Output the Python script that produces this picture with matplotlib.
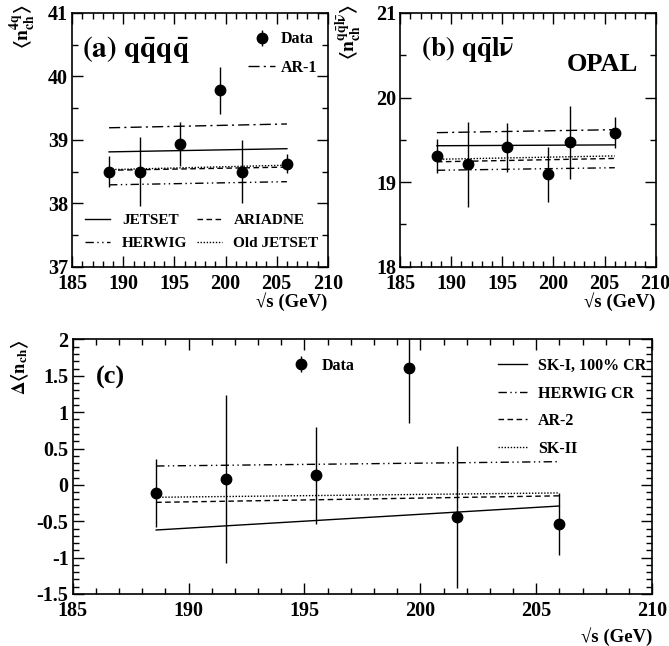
import numpy as np
import matplotlib
matplotlib.use('Agg')
import matplotlib.pyplot as plt
from matplotlib.ticker import MultipleLocator, FormatStrFormatter
from matplotlib.lines import Line2D

plt.rcParams['font.family'] = 'Liberation Serif'
plt.rcParams['font.weight'] = 'bold'
plt.rcParams['mathtext.fontset'] = 'stix'
plt.rcParams['axes.unicode_minus'] = False

# energies
ecm = [188.6, 191.6, 195.5, 199.5, 201.6, 206.0]
mc_x = [188.6, 206.0]

# (a) 4q channel
n4q = [38.50, 38.50, 38.93, 39.78, 38.50, 38.62]
n4q_err = [0.24, 0.55, 0.35, 0.37, 0.49, 0.15]
a_jetset = [38.81, 38.86]
a_ar1 = [39.19, 39.25]
a_ariadne = [38.52, 38.57]
a_oldjetset = [38.53, 38.60]
a_herwig = [38.29, 38.34]

# (b) qqlv channel
nqqlv = [19.31, 19.21, 19.41, 19.09, 19.47, 19.585]
nqqlv_err = [0.20, 0.50, 0.29, 0.33, 0.43, 0.18]
b_jetset = [19.43, 19.44]
b_ar1 = [19.585, 19.62]
b_ariadne = [19.24, 19.28]
b_oldjetset = [19.27, 19.31]
b_herwig = [19.14, 19.17]

# (c) difference
dn = [-0.11, 0.08, 0.13, 1.605, -0.44, -0.54]
dn_err = [0.47, 1.15, 0.67, 0.75, 0.98, 0.43]
c_sk1 = [-0.62, -0.29]
c_herwigcr = [0.26, 0.32]
c_ar2 = [-0.24, -0.15]
c_sk2 = [-0.17, -0.11]

LS_SOLID = '-'
LS_DASH = (0, (4, 2.5))
LS_DOT = (0, (1, 1.2))
LS_DDOT = (0, (6, 2.5, 1, 2.5, 1, 2.5))
LS_DASHDOT = (0, (8, 3, 1.5, 3))

LEG_KW = dict(frameon=False, borderpad=0, borderaxespad=0, loc='upper left')


def style_axes(ax, ymaj, ymin):
    ax.set_xlim(185, 210)
    ax.xaxis.set_major_locator(MultipleLocator(5))
    ax.xaxis.set_minor_locator(MultipleLocator(1))
    ax.yaxis.set_major_locator(MultipleLocator(ymaj))
    ax.yaxis.set_minor_locator(MultipleLocator(ymin))
    ax.tick_params(which='both', direction='in', top=True, right=True, labelsize=14.5, width=1)
    ax.tick_params(which='major', length=8)
    ax.tick_params(which='minor', length=4)
    ax.tick_params(axis='x', pad=5)
    ax.tick_params(axis='y', pad=3)
    for s in ax.spines.values():
        s.set_linewidth(1.2)


def data_points(ax, y, yerr):
    ax.errorbar(ecm, y, yerr=yerr, fmt='o', color='black', ms=7.5,
                elinewidth=1, capsize=0, zorder=5)


fig = plt.figure(figsize=(6.69, 6.46), dpi=100)
axa = fig.add_axes([0.108, 0.5872, 0.382, 0.3927])
axb = fig.add_axes([0.598, 0.5872, 0.382, 0.3927])
axc = fig.add_axes([0.1087, 0.0805, 0.866, 0.394])

# ---- panel (a)
axa.plot(mc_x, a_jetset, color='black', lw=1, ls=LS_SOLID)
axa.plot(mc_x, a_ar1, color='black', lw=1, ls=LS_DASHDOT)
axa.plot(mc_x, a_ariadne, color='black', lw=1, ls=LS_DASH)
axa.plot(mc_x, a_oldjetset, color='black', lw=1, ls=LS_DOT)
axa.plot(mc_x, a_herwig, color='black', lw=1, ls=LS_DDOT)
data_points(axa, n4q, n4q_err)
axa.set_ylim(37, 41)
style_axes(axa, 1, 0.5)
axa.yaxis.set_major_formatter(FormatStrFormatter('%d'))
axa.text(0.04, 0.855, r'$\mathbf{(a)\ q\bar{q}q\bar{q}}$', transform=axa.transAxes,
         fontsize=21, va='center', ha='left')
axa.text(-0.19, 1.035, r'$\langle\mathbf{n}_{\mathbf{ch}}^{\mathbf{4q}}\rangle$',
         transform=axa.transAxes, rotation=90, fontsize=14, ha='center', va='top')
axa.text(1.0, -0.1, '√s (GeV)', transform=axa.transAxes, ha='right', va='top',
         fontsize=13.5, fontweight='bold')

h_data = axa.errorbar([], [], yerr=[], fmt='o', color='black', ms=7.5, elinewidth=1)
h_ar1 = Line2D([], [], color='black', lw=1, ls=LS_DASHDOT)
leg1 = axa.legend([h_data, h_ar1], ['Data', 'AR-1'], bbox_to_anchor=(0.689, 0.928),
                  prop={'size': 11.5, 'weight': 'bold'},
                  handlelength=1.7, handletextpad=0.32, labelspacing=0.8, **LEG_KW)
axa.add_artist(leg1)
h_js = Line2D([], [], color='black', lw=1, ls=LS_SOLID)
h_ari = Line2D([], [], color='black', lw=1, ls=LS_DASH)
h_hw = Line2D([], [], color='black', lw=1, ls=LS_DDOT)
h_old = Line2D([], [], color='black', lw=1, ls=LS_DOT)
axa.legend([h_js, h_hw, h_ari, h_old], ['JETSET', 'HERWIG', 'ARIADNE', 'Old JETSET'],
           ncol=2, bbox_to_anchor=(0.051, 0.21), prop={'size': 11, 'weight': 'bold'},
           handlelength=1.63, handletextpad=0.78, columnspacing=0.6, labelspacing=0.62,
           **LEG_KW)

# ---- panel (b)
axb.plot(mc_x, b_jetset, color='black', lw=1, ls=LS_SOLID)
axb.plot(mc_x, b_ar1, color='black', lw=1, ls=LS_DASHDOT)
axb.plot(mc_x, b_ariadne, color='black', lw=1, ls=LS_DASH)
axb.plot(mc_x, b_oldjetset, color='black', lw=1, ls=LS_DOT)
axb.plot(mc_x, b_herwig, color='black', lw=1, ls=LS_DDOT)
data_points(axb, nqqlv, nqqlv_err)
axb.set_ylim(18, 21)
style_axes(axb, 1, 0.5)
axb.yaxis.set_major_formatter(FormatStrFormatter('%d'))
axb.text(0.08, 0.86, r'$\mathbf{(b)\ q\bar{q}l\bar{\nu}}$', transform=axb.transAxes,
         fontsize=19.5, va='center', ha='left')
axb.text(0.93, 0.795, 'OPAL', transform=axb.transAxes, fontsize=19,
         fontweight='bold', ha='right', va='center')
axb.text(-0.2, 1.035, r'$\langle\mathbf{n}_{\mathbf{ch}}^{\mathbf{q\bar{q}l\bar{\nu}}}\rangle$',
         transform=axb.transAxes, rotation=90, fontsize=14, ha='center', va='top')
axb.text(1.0, -0.1, '√s (GeV)', transform=axb.transAxes, ha='right', va='top',
         fontsize=13.5, fontweight='bold')

# ---- panel (c)
axc.plot(mc_x, c_sk1, color='black', lw=1, ls=LS_SOLID)
axc.plot(mc_x, c_herwigcr, color='black', lw=1, ls=LS_DDOT)
axc.plot(mc_x, c_ar2, color='black', lw=1, ls=LS_DASH)
axc.plot(mc_x, c_sk2, color='black', lw=1, ls=LS_DOT)
data_points(axc, dn, dn_err)
axc.set_ylim(-1.5, 2)
style_axes(axc, 0.5, 0.1)
axc.yaxis.set_major_formatter(plt.FuncFormatter(lambda v, p: ('%g' % v)))
axc.text(0.04, 0.85, '(c)', transform=axc.transAxes, fontsize=19,
         fontweight='bold', va='center', ha='left')
axc.text(-0.09, 1.0, r'$\Delta\langle\mathbf{n}_{\mathbf{ch}}\rangle$',
         transform=axc.transAxes, rotation=90, fontsize=13.5, ha='center', va='top')
axc.text(1.0, -0.13, '√s (GeV)', transform=axc.transAxes, ha='right', va='top',
         fontsize=13.5, fontweight='bold')

h_data_c = axc.errorbar([], [], yerr=[], fmt='o', color='black', ms=7.5, elinewidth=1)
legc1 = axc.legend([h_data_c], ['Data'], bbox_to_anchor=(0.3705, 0.927),
                   prop={'size': 11.5, 'weight': 'bold'},
                   handlelength=1.7, handletextpad=0.48, **LEG_KW)
axc.add_artist(legc1)
hc = [Line2D([], [], color='black', lw=1, ls=s) for s in (LS_SOLID, LS_DDOT, LS_DASH, LS_DOT)]
axc.legend(hc, ['SK-I, 100% CR', 'HERWIG CR', 'AR-2', 'SK-II'],
           bbox_to_anchor=(0.734, 0.927), prop={'size': 11.5, 'weight': 'bold'},
           handlelength=1.82, handletextpad=0.68, labelspacing=0.72, **LEG_KW)

fig.savefig('out.png', dpi=100)
